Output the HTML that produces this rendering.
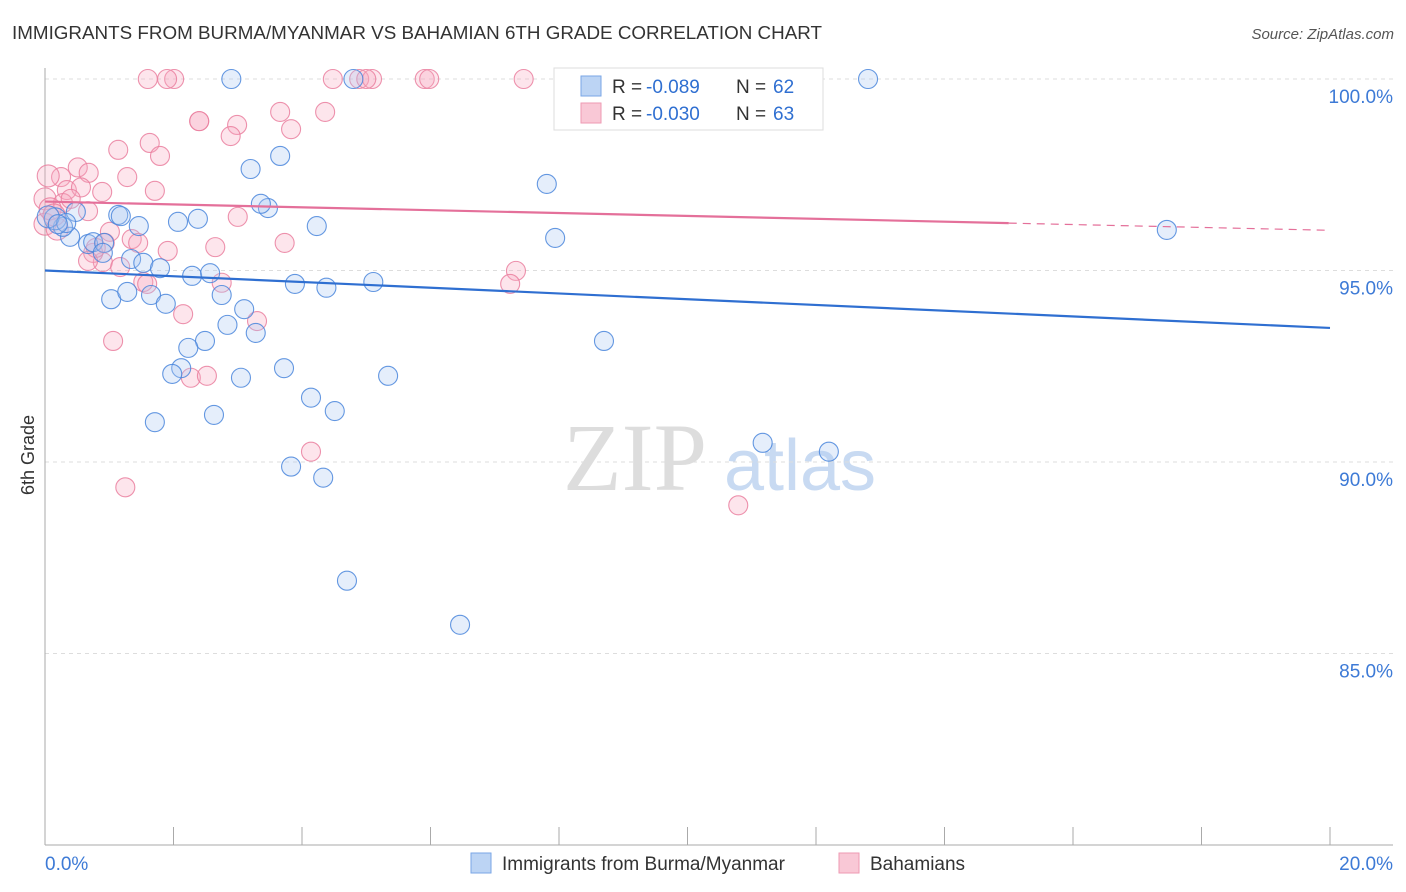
<!DOCTYPE html>
<html><head><meta charset="utf-8"><style>
body{margin:0;background:#fff;font-family:"Liberation Sans",sans-serif}
#c{position:absolute;left:0;top:0}
</style></head><body>
<svg id="c" width="1406" height="892" xmlns="http://www.w3.org/2000/svg">
<text x="12" y="39" font-size="18" fill="#333" textLength="810" lengthAdjust="spacingAndGlyphs">IMMIGRANTS FROM BURMA/MYANMAR VS BAHAMIAN 6TH GRADE CORRELATION CHART</text>
<text x="1394" y="39" font-size="15" fill="#555" font-style="italic" text-anchor="end">Source: ZipAtlas.com</text>
<text x="34" y="455" font-size="18" fill="#333" transform="rotate(-90 34 455)" text-anchor="middle">6th Grade</text>
<g><text x="635" y="490" font-size="96" fill="#ddd" font-family="Liberation Serif,serif" text-anchor="middle">ZIP</text><text x="800" y="490" font-size="72" fill="#c8daf2" text-anchor="middle">atlas</text></g>
<g id="grid"></g><g id="axes"></g><g id="pts"></g><g id="lines"></g>
<g>
<rect x="554" y="68" width="269" height="62" fill="#fff" stroke="#ddd"/>
<rect x="581" y="76" width="20" height="20" fill="#bcd4f4" stroke="#7aa6e6"/>
<rect x="581" y="103" width="20" height="20" fill="#f9c8d6" stroke="#ee9ab3"/>
<text x="612" y="93" font-size="19" fill="#333">R =</text><text x="646" y="93" font-size="19" fill="#2f6fd1">-0.089</text>
<text x="736" y="93" font-size="19" fill="#333">N =</text><text x="773" y="93" font-size="19" fill="#2f6fd1">62</text>
<text x="612" y="120" font-size="19" fill="#333">R =</text><text x="646" y="120" font-size="19" fill="#2f6fd1">-0.030</text>
<text x="736" y="120" font-size="19" fill="#333">N =</text><text x="773" y="120" font-size="19" fill="#2f6fd1">63</text>
</g>
<g>
<rect x="471" y="853" width="20" height="20" fill="#bcd4f4" stroke="#7aa6e6"/>
<text x="502" y="870" font-size="19" fill="#333">Immigrants from Burma/Myanmar</text>
<rect x="839" y="853" width="20" height="20" fill="#f9c8d6" stroke="#ee9ab3"/>
<text x="870" y="870" font-size="19" fill="#333">Bahamians</text>
</g>
</svg>
<script>
const yTicks=[100,95,90,85];
const yTickLabels=["100.0%","95.0%","90.0%","85.0%"];
const xTickLabels=["0.0%","20.0%"];
const blueX=[2.9,4.8,9.97,12.81,3.66,3.2,7.81,3.47,3.36,1.14,1.18,1.46,2.07,2.38,4.23,17.46,7.94,0.39,0.67,0.75,0.92,0.28,0.16,0.05,0.48,1.34,1.53,1.79,2.29,2.57,3.89,4.38,5.11,1.03,1.28,1.65,1.88,2.75,3.1,2.84,3.28,2.49,2.23,8.7,3.72,2.12,1.98,3.05,5.34,4.14,4.51,2.63,1.71,11.17,12.2,3.83,4.33,4.7,6.46,0.9,0.33,0.2];
const blueY=[100,100,100,100,97.99,97.65,97.26,96.63,96.74,96.45,96.42,96.16,96.27,96.35,96.16,96.06,95.85,95.88,95.69,95.74,95.72,96.14,96.35,96.4,96.53,95.3,95.2,95.06,94.86,94.93,94.65,94.55,94.7,94.25,94.44,94.36,94.13,94.36,93.99,93.58,93.37,93.16,92.98,93.16,92.45,92.45,92.3,92.2,92.25,91.68,91.33,91.23,91.04,90.5,90.27,89.88,89.59,86.9,85.75,95.46,96.24,96.21];
const pinkX=[1.6,2.01,1.9,4.48,4.89,5.09,5,5.91,5.98,7.45,3.66,4.36,2.4,2.99,2.89,3.83,1.14,1.63,1.79,2.4,0.51,0.68,0.25,0.05,0.34,0.56,1.28,0.89,1.71,0,0.28,0.4,1.01,0.67,0,0.19,0.08,3.0,3.73,0.93,1.35,1.45,1.91,2.65,0.9,1.17,0.75,7.33,7.24,1.53,1.59,2.75,3.3,2.15,1.06,2.27,2.52,4.14,1.25,10.79,0.79,0.67,0.14];
const pinkY=[100,100,100,100,100,100,100,100,100,100,99.14,99.14,98.9,98.8,98.51,98.69,98.15,98.33,97.99,98.9,97.69,97.55,97.44,97.47,97.1,97.17,97.44,97.05,97.08,96.87,96.76,96.87,96.01,96.55,96.21,96.08,96.61,96.4,95.72,95.72,95.82,95.72,95.51,95.61,95.22,95.09,95.46,94.99,94.65,94.7,94.65,94.68,93.68,93.86,93.16,92.2,92.25,90.27,89.34,88.87,95.59,95.25,96.45];
const blueLine=[95.0,93.5];
const pinkLine=[96.8,96.05];
const pinkSolidEnd=15;
const X=v=>45+v/20*1285, Y=v=>79+(100-v)/5*191.5;
const NS="http://www.w3.org/2000/svg";
function mk(p,t,a){const e=document.createElementNS(NS,t);for(const k in a)e.setAttribute(k,a[k]);p.appendChild(e);return e;}
const grid=document.getElementById('grid'),axes=document.getElementById('axes'),pts=document.getElementById('pts'),lines=document.getElementById('lines');
yTicks.forEach((t,i)=>{
 const g=mk(grid,'line',{x1:45,x2:1393,y1:Y(t),y2:Y(t),stroke:'#ddd','stroke-dasharray':'4,4'});
 
 
 const l=mk(axes,'text',{x:1393,y:Y(t)+24,'font-size':19,fill:'#3d7ad6','text-anchor':'end'});l.textContent=yTickLabels[i];
 
 
});
mk(axes,'line',{x1:45,x2:45,y1:68,y2:845,stroke:'#aaa'});
mk(axes,'line',{x1:45,x2:1393,y1:845,y2:845,stroke:'#aaa'});
for(let i=0;i<=10;i++){const t=mk(axes,'line',{x1:X(i*2),x2:X(i*2),y1:827,y2:845,stroke:'#aaa'});
 
 }
[[0,'start',45],[20,'end',1393]].forEach((d,i)=>{const l=mk(axes,'text',{x:d[2],y:870,'font-size':19,fill:'#3d7ad6','text-anchor':d[1]});l.textContent=xTickLabels[i];
 
 });
function dots(xs,ys,fill,stroke,name){xs.forEach((x,i)=>{const c=mk(pts,'circle',{cx:X(x),cy:Y(ys[i]),r:(x<0.2?11:9.5),fill:fill,'fill-opacity':0.3,stroke:stroke,'stroke-width':1.1,'stroke-opacity':0.85});
 
 });}
dots(pinkX,pinkY,'#f7a9c0','#ea7f9f','bahamian-point');
dots(blueX,blueY,'#a9c8f2','#4a86dc','burma-point');
const bl=mk(lines,'line',{x1:X(0),y1:Y(blueLine[0]),x2:X(20),y2:Y(blueLine[1]),stroke:'#2f6fd1','stroke-width':2.2});


const pf=v=>pinkLine[0]+(pinkLine[1]-pinkLine[0])*v/20;
const pl=mk(lines,'line',{x1:X(0),y1:Y(pf(0)),x2:X(pinkSolidEnd),y2:Y(pf(pinkSolidEnd)),stroke:'#e4709a','stroke-width':2.2});


const pd=mk(lines,'line',{x1:X(pinkSolidEnd),y1:Y(pf(pinkSolidEnd)),x2:X(20),y2:Y(pf(20)),stroke:'#e4709a','stroke-width':1.2,'stroke-dasharray':'8,6'});


</script>
</body></html>
